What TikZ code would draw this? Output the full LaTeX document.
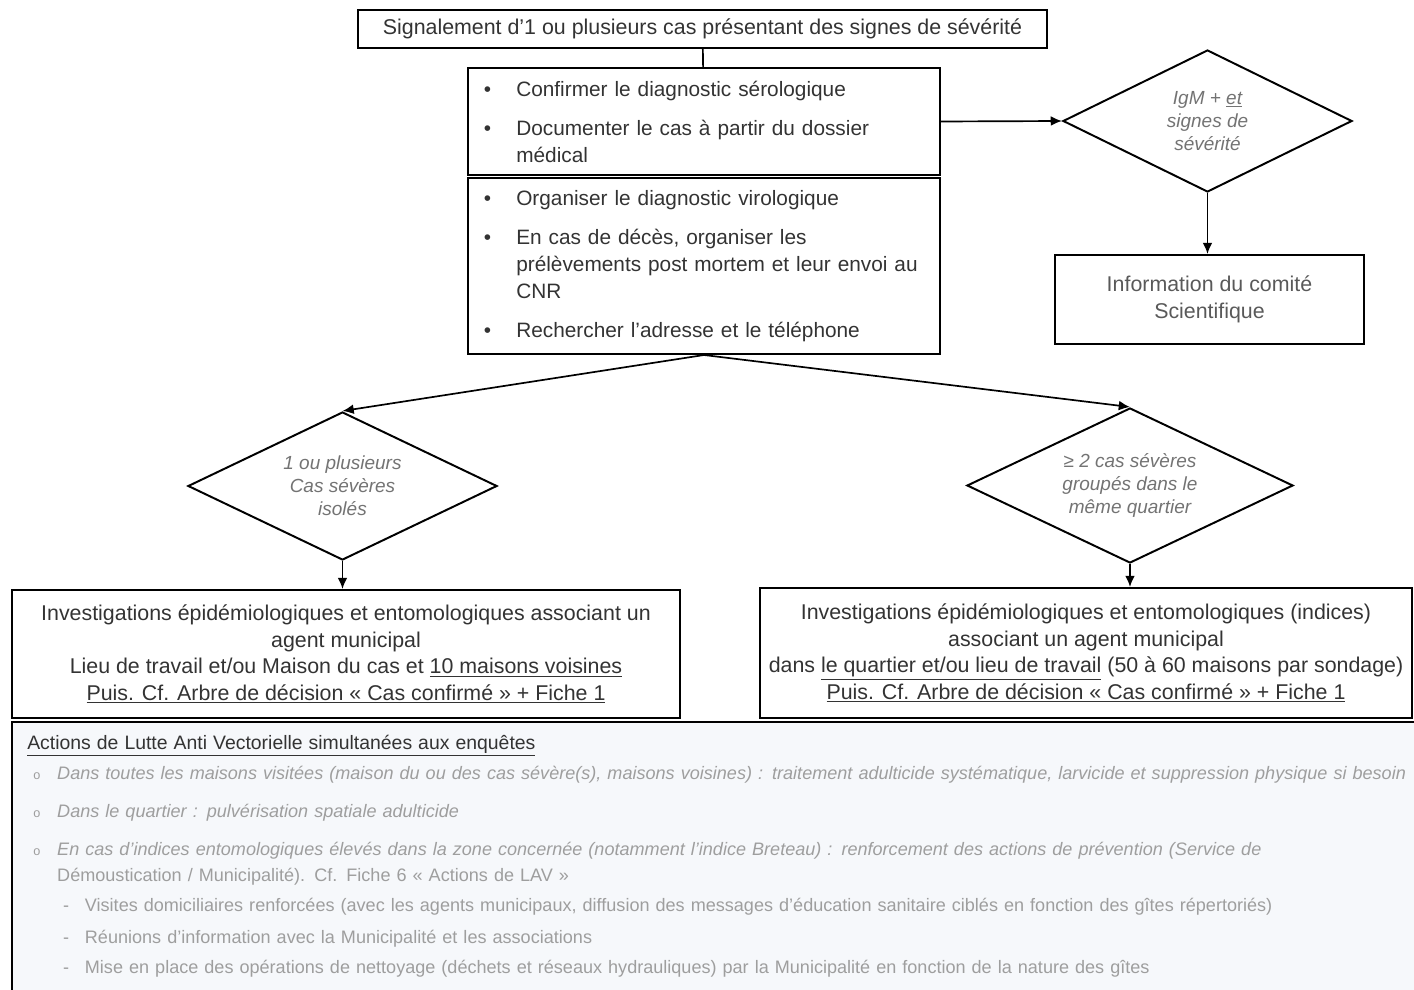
\documentclass[tikz,border=0pt]{standalone}
\usepackage{fontspec}
\setmainfont{Liberation Sans}
\usetikzlibrary{arrows.meta,positioning,shapes.geometric}
\definecolor{panelbg}{RGB}{246,248,251}
\tikzset{
    box/.style={draw,line width=1.4pt,rectangle,inner sep=0pt,align=center,
        font=\fontsize{15.2}{19}\selectfont,text=black!80},
    listbox/.style={box,align=left,inner xsep=0.4cm,font=\fontsize{14.8}{19}\selectfont},
    decision/.style={draw,line width=1.4pt,diamond,aspect=2,inner sep=0pt,align=center,
        font=\fontsize{13.5}{16.3}\selectfont\itshape,text=black!55},
    panel/.style={draw,line width=1.8pt,fill=panelbg,inner sep=0pt},
    lavtext/.style={inner sep=0pt,align=left,text width=35cm,
        font=\fontsize{12.85}{18.4}\selectfont,text=black!38},
    link/.style={line width=1.2pt},
    arr/.style={-{Latex[length=8pt,width=7pt]},line width=1.2pt},
}
\newcommand{\bitem}[1]{\makebox[23pt][l]{\textbullet}#1}
\newcommand{\bcont}{\hspace*{23pt}}
\newcommand{\oitem}{\hspace*{4.3pt}\makebox[17pt][l]{\fontsize{9}{9}\selectfont o}}
\newcommand{\ocont}{\hspace*{21.3pt}}
\newcommand{\ditem}{\hspace*{25.5pt}\makebox[15.5pt][l]{-}}

\begin{document}
\begin{tikzpicture}[x=0.025cm,y=-0.025cm]
    \useasboundingbox (0,0) rectangle (1414,990);
    % signalement et premieres actions
    \node[box,minimum width=17.225cm,minimum height=0.95cm] (signal) at (702.5,29)
        {Signalement d'1 ou plusieurs cas présentant des signes de sévérité};
    \node[listbox,text width=11cm,minimum height=2.675cm] (confirm) at (704,121.5)
        {\bitem{Confirmer le diagnostic sérologique}\\[9pt]
         \bitem{Documenter le cas à partir du dossier}\\
         \bcont médical};
    \node[listbox,text width=11cm,minimum height=4.4cm] (organise) at (704,266)
        {\bitem{Organiser le diagnostic virologique}\\[9pt]
         \bitem{En cas de décès, organiser les}\\
         \bcont prélèvements post mortem et leur envoi au\\
         \bcont CNR\\[9pt]
         \bitem{Rechercher l'adresse et le téléphone}};
    % branche IgM
    \node[decision,minimum width=7.225cm,minimum height=3.55cm] (severe) at (1207.5,121)
        {IgM + \underline{et}\\ signes de\\ sévérité};
    \node[box,text=black!65,minimum width=7.725cm,minimum height=2.225cm] (comite) at (1209.5,299.5)
        {Information du comité\\ Scientifique};
    % les deux situations
    \node[decision,minimum width=7.725cm,minimum height=3.7cm] (isoles) at (342.5,486)
        {1 ou plusieurs\\ Cas sévères\\ isolés};
    \node[decision,minimum width=8.15cm,minimum height=3.875cm] (groupes) at (1130,485.5)
        {≥ 2 cas sévères\\ groupés dans le\\ même quartier};
    \node[box,minimum width=16.7cm,minimum height=3.2cm] (invisoles) at (346,654)
        {Investigations épidémiologiques et entomologiques associant un\\
         agent municipal\\
         Lieu de travail et/ou Maison du cas et \underline{10 maisons voisines}\\
         \underline{Puis. Cf. Arbre de décision « Cas confirmé » + Fiche 1}};
    \node[box,minimum width=16.3cm,minimum height=3.25cm] (invgroupes) at (1086,653)
        {Investigations épidémiologiques et entomologiques (indices)\\
         associant un agent municipal\\
         dans \underline{le quartier et/ou lieu de travail} (50 à 60 maisons par sondage)\\
         \underline{Puis. Cf. Arbre de décision « Cas confirmé » + Fiche 1}};
    % actions LAV
    \node[panel,minimum width=35.45cm,minimum height=7.2cm] (lav) at (721,866) {};
    \node[lavtext,anchor=north west] (lavlist) at (27,735)
        {{\fontsize{13.8}{15}\selectfont\color{black!80}\underline{Actions de Lutte Anti Vectorielle simultanées aux enquêtes}}\\[2.9pt]
         \oitem{\itshape Dans toutes les maisons visitées (maison du ou des cas sévère(s), maisons voisines) : traitement adulticide systématique, larvicide et suppression physique si besoin}\\[8.5pt]
         \oitem{\itshape Dans le quartier : pulvérisation spatiale adulticide}\\[8.5pt]
         \oitem{\itshape En cas d'indices entomologiques élevés dans la zone concernée (notamment l'indice Breteau) : renforcement des actions de prévention (Service de}\\
         \ocont Démoustication / Municipalité). Cf. Fiche 6 « Actions de LAV »\\[3.6pt]
         \ditem Visites domiciliaires renforcées (avec les agents municipaux, diffusion des messages d'éducation sanitaire ciblés en fonction des gîtes répertoriés)\\[4.3pt]
         \ditem Réunions d'information avec la Municipalité et les associations\\[2.9pt]
         \ditem Mise en place des opérations de nettoyage (déchets et réseaux hydrauliques) par la Municipalité en fonction de la nature des gîtes};
    % connecteurs
    \draw[link] (signal) -- (confirm);
    \draw[arr] (confirm.east) -- (severe.west);
    \draw[arr] (severe.south) -- (severe.south |- comite.north);
    \draw[arr] (organise.south) -- (isoles.north);
    \draw[arr] (organise.south) -- (groupes.north);
    \draw[arr] (isoles.south) -- (isoles.south |- invisoles.north);
    \draw[arr] (groupes.south) -- (groupes.south |- invgroupes.north);
\end{tikzpicture}
\end{document}
